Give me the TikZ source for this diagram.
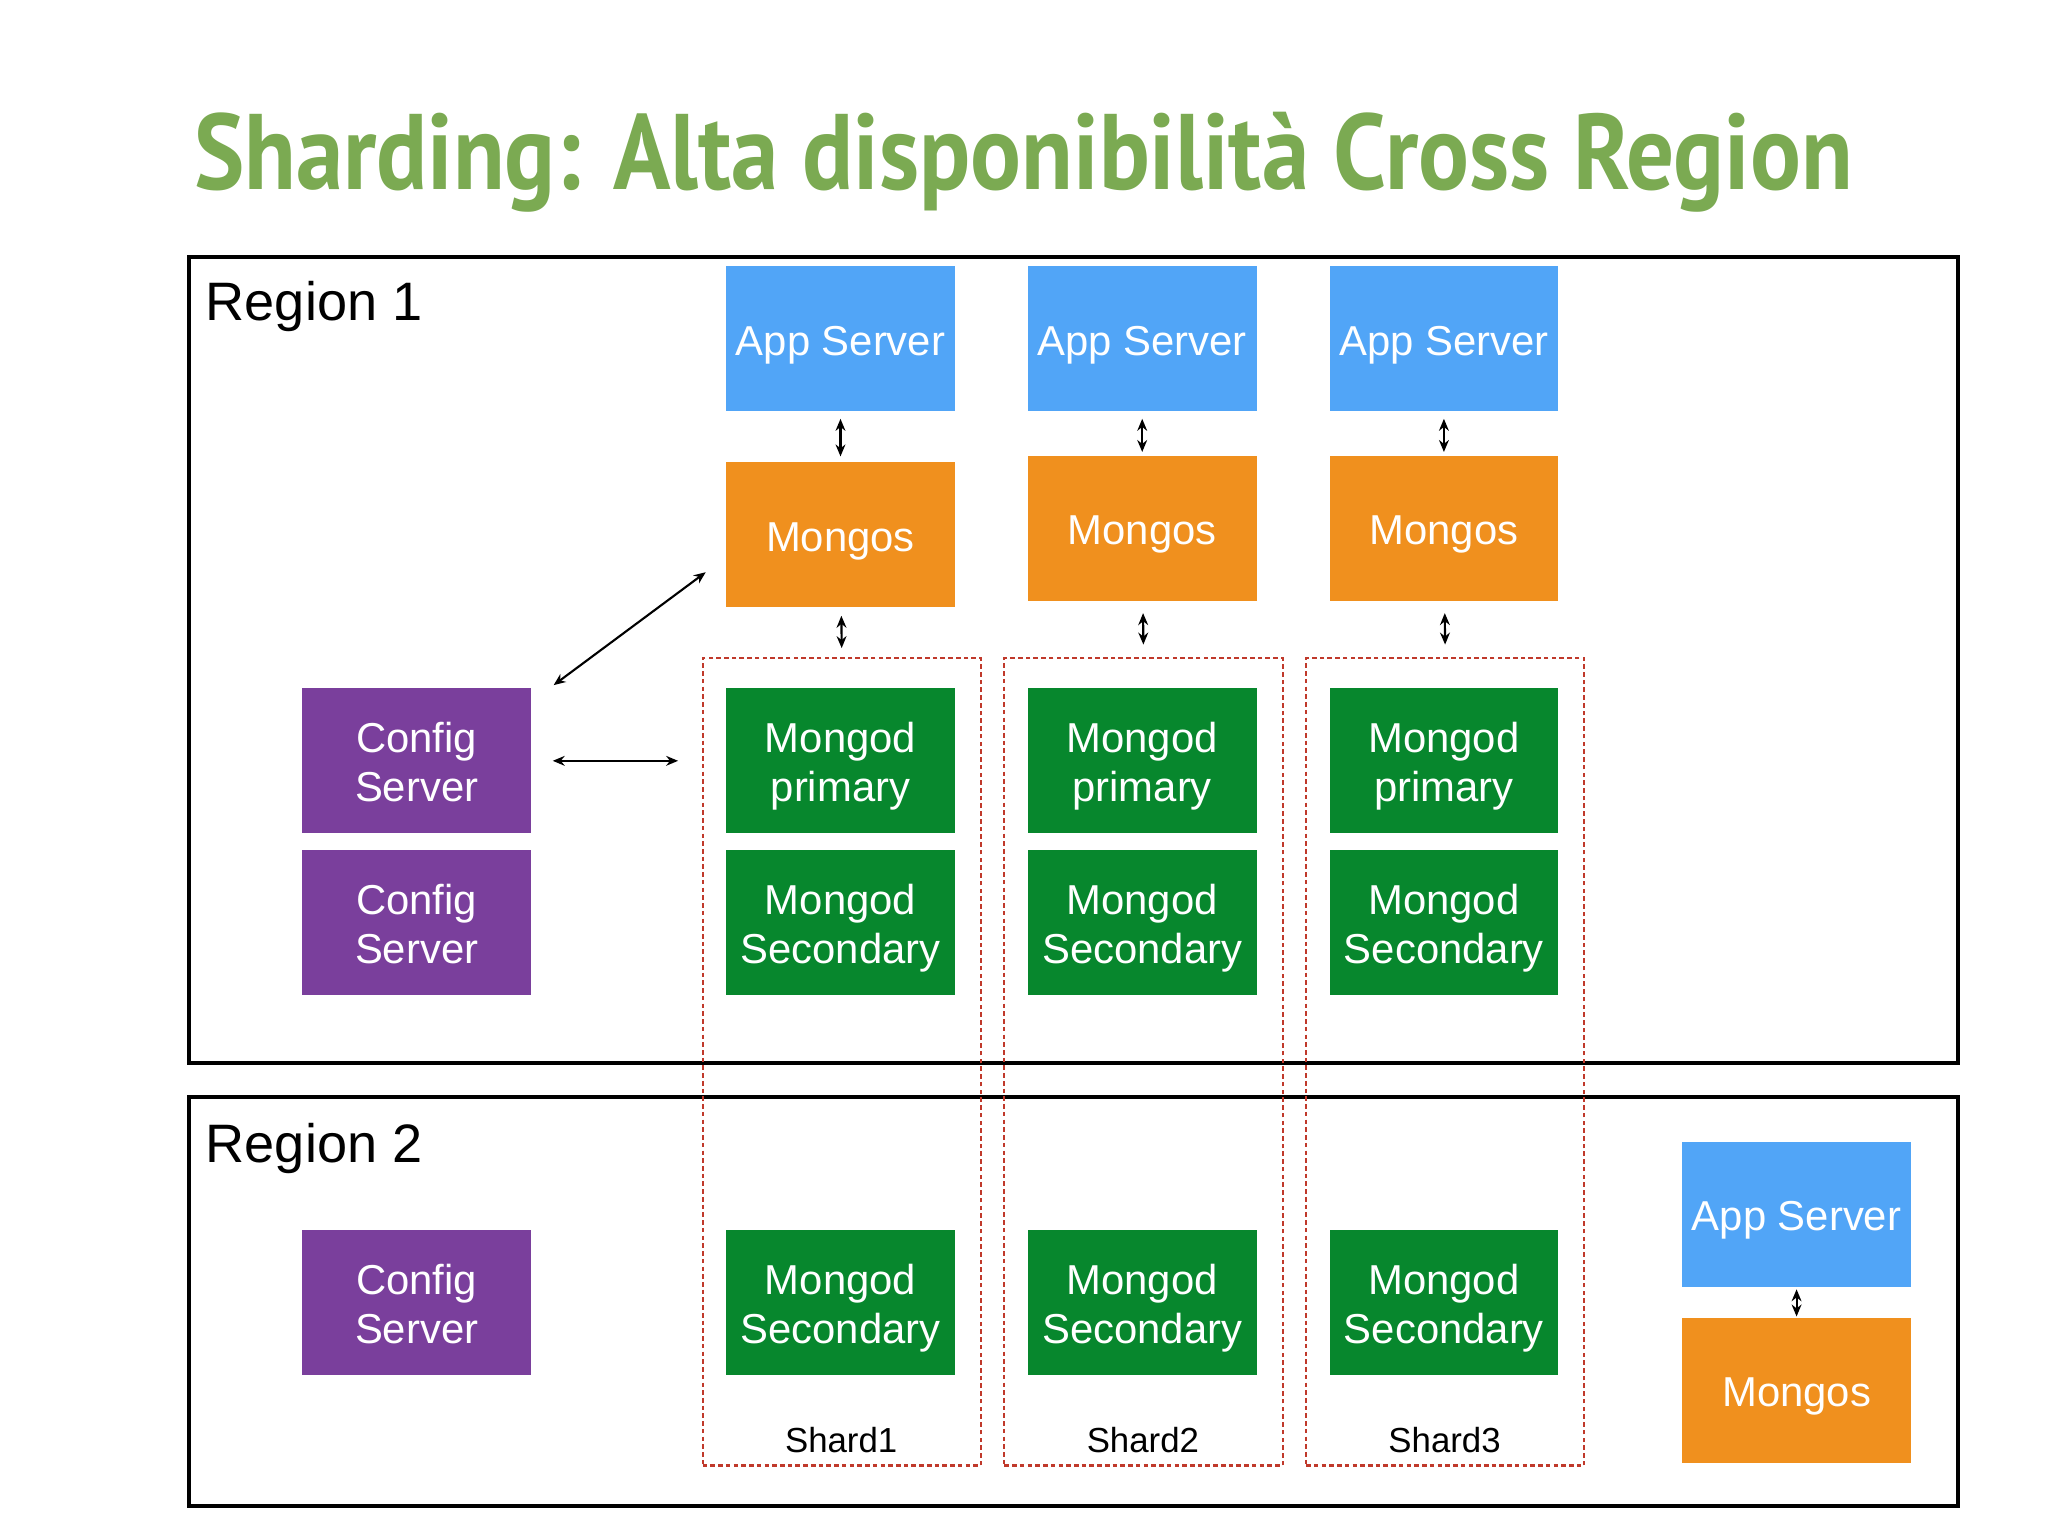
\documentclass[tikz,border=0pt]{standalone}
\usepackage{fontspec}
\setmainfont{Liberation Sans}
\newfontfamily\titlefont{PT Sans}
\usetikzlibrary{arrows.meta,calc}
\definecolor{appblue}{HTML}{51A5F7}
\definecolor{mgorange}{HTML}{F0901E}
\definecolor{mdgreen}{HTML}{07872D}
\definecolor{cfgpurple}{HTML}{7A3F9C}
\definecolor{titlegreen}{HTML}{7BAA52}
\definecolor{shardred}{HTML}{C0392B}
\newcommand{\bt}[1]{\raisebox{-1.8pt}[\height][\depth]{\begin{tabular}{@{}c@{}}#1\end{tabular}}}
\begin{document}
\begin{tikzpicture}[x=0.3716pt,y=-0.3716pt,
  box/.style={minimum width=65.03pt,minimum height=41.25pt,inner sep=0pt,text=white,font=\fontsize{11.9}{14}\selectfont,align=center},
  app/.style={box,fill=appblue},
  mgs/.style={box,fill=mgorange},
  mgd/.style={box,fill=mdgreen},
  cfg/.style={box,fill=cfgpurple},
  shardbox/.style={draw=shardred,line width=0.6pt,dash pattern=on 1.3pt off 0.9pt,minimum width=79.15pt,minimum height=229.65pt,inner sep=0pt},
  region/.style={draw=black,line width=1.1pt},
  reglabel/.style={anchor=base west,inner sep=0pt,font=\fontsize{15.4}{18}\selectfont},
  shardlabel/.style={anchor=base,inner sep=0pt,font=\fontsize{9.9}{12}\selectfont},
  arr/.style={{Stealth[length=3.4pt,width=2.8pt]}-{Stealth[length=3.4pt,width=2.8pt]},line width=0.6pt},
]
\fill[white] (0,0) rectangle (1568,1176);
\useasboundingbox (0,0) rectangle (1568,1176);

% title
\node[anchor=base west,inner sep=0pt,text=titlegreen] (title) at (148,145)
  {\resizebox{472pt}{22pt}{\titlefont\bfseries Sharding: Alta disponibilità Cross Region}};

% regions
\draw[region] (145,197) rectangle (1499,814);
\draw[region] (145,840) rectangle (1499,1153);
\node[reglabel] (r1) at (157,245) {Region 1};
\node[reglabel] (r2) at (157,890) {Region 2};

% shard boxes
\node[shardbox] (sh1) at (644.5,813) {};
\node[shardbox] (sh2) at (875.5,813) {};
\node[shardbox] (sh3) at (1106.5,813) {};
\node[shardlabel] (sl1) at (644,1112) {Shard1};
\node[shardlabel] (sl2) at (875,1112) {Shard2};
\node[shardlabel] (sl3) at (1106,1112) {Shard3};

% app servers
\node[app] (app1) at (643.5,259.5) {\bt{App Server}};
\node[app] (app2) at (874.5,259.5) {\bt{App Server}};
\node[app] (app3) at (1105.5,259.5) {\bt{App Server}};
\node[app] (app4) at (1375.5,930) {\bt{App Server}};

% mongos
\node[mgs] (mgs1) at (643.5,409.5) {\bt{Mongos}};
\node[mgs] (mgs2) at (874.5,404.5) {\bt{Mongos}};
\node[mgs] (mgs3) at (1105.5,404.5) {\bt{Mongos}};
\node[mgs] (mgs4) at (1375.5,1064.5) {\bt{Mongos}};

% mongod
\node[mgd] (p1) at (643.5,582.5) {\bt{Mongod\\primary}};
\node[mgd] (p2) at (874.5,582.5) {\bt{Mongod\\primary}};
\node[mgd] (p3) at (1105.5,582.5) {\bt{Mongod\\primary}};
\node[mgd] (s1) at (643.5,706.5) {\bt{Mongod\\Secondary}};
\node[mgd] (s2) at (874.5,706.5) {\bt{Mongod\\Secondary}};
\node[mgd] (s3) at (1105.5,706.5) {\bt{Mongod\\Secondary}};
\node[mgd] (t1) at (643.5,997.5) {\bt{Mongod\\Secondary}};
\node[mgd] (t2) at (874.5,997.5) {\bt{Mongod\\Secondary}};
\node[mgd] (t3) at (1105.5,997.5) {\bt{Mongod\\Secondary}};

% config servers
\node[cfg] (c1) at (319,582.5) {\bt{Config\\Server}};
\node[cfg] (c2) at (319,706.5) {\bt{Config\\Server}};
\node[cfg] (c3) at (319,997.5) {\bt{Config\\Server}};

% arrows
\draw[arr,shorten <=1.9pt,shorten >=1.5pt] (app1) -- (mgs1);
\draw[arr,shorten <=1.9pt,shorten >=0.9pt] (app2) -- (mgs2);
\draw[arr,shorten <=1.9pt,shorten >=0.9pt] (app3) -- (mgs3);
\draw[arr,shorten <=2.2pt,shorten >=2.6pt] (mgs1) -- (sh1.north);
\draw[arr,shorten <=3.3pt,shorten >=3.6pt] (mgs2) -- (sh2.north);
\draw[arr,shorten <=3.3pt,shorten >=3.6pt] (mgs3) -- (sh3.north);
\draw[arr,shorten <=0.4pt,shorten >=0.2pt] (app4) -- (mgs4);
\draw[arr,shorten <=7.8pt,shorten >=7pt] ($(c1.north east)+(0,10.6)$) -- ($(mgs1.south west)+(0,-38.7)$);
\draw[arr,shorten <=6pt,shorten >=6.7pt] (c1.east) -- (sh1.west |- c1.east);
\end{tikzpicture}
\end{document}
